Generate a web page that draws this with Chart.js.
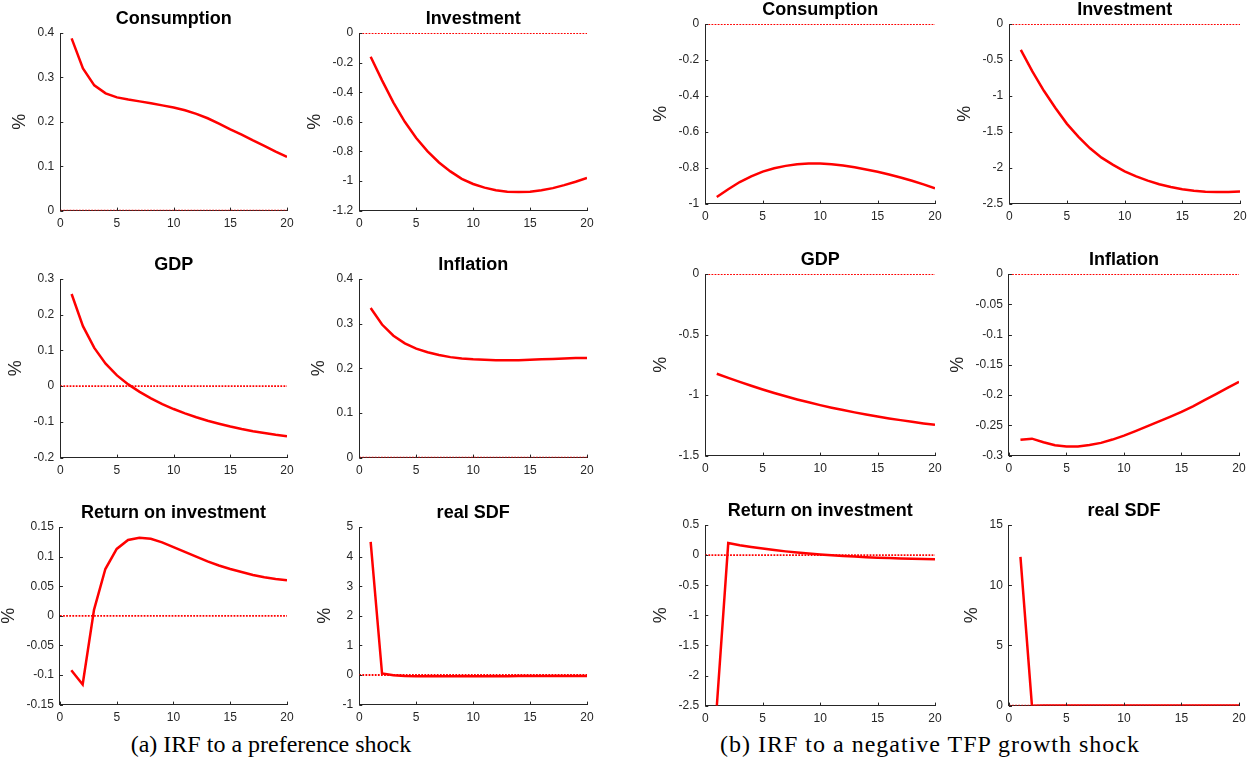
<!DOCTYPE html>
<html>
<head>
<meta charset="utf-8">
<script src="https://cdn.jsdelivr.net/npm/chart.js@4.4.1/dist/chart.umd.min.js"></script>
<style>
  body { margin: 0; background: #fff; }
  #wrap { position: relative; width: 1256px; height: 773px; overflow: hidden; background: #fff; }
  #wrap canvas { position: absolute; }
  .caption { position: absolute; font-family: "Liberation Serif", "DejaVu Serif", serif; font-size: 24px; color: #000; white-space: nowrap; transform: translateX(-50%); }
</style>
</head>
<body>
<div id="wrap">
  <div class="caption" style="left:271px; top:731px;">(a) IRF to a preference shock</div>
  <div class="caption" style="left:930px; top:731px; letter-spacing:1px;">(b) IRF to a negative TFP growth shock</div>
</div>
<script>
// horizon (quarters)
var periods = [1, 2, 3, 4, 5, 6, 7, 8, 9, 10, 11, 12, 13, 14, 15, 16, 17, 18, 19, 20];

// (a) preference shock
var prefConsumption = [0.388, 0.320, 0.282, 0.264, 0.255, 0.250, 0.246, 0.242, 0.237, 0.232, 0.226, 0.218, 0.208, 0.196, 0.183, 0.171, 0.158, 0.146, 0.133, 0.121];
var prefInvestment = [-0.16, -0.32, -0.47, -0.60, -0.71, -0.80, -0.875, -0.935, -0.985, -1.02, -1.045, -1.062, -1.072, -1.075, -1.072, -1.063, -1.048, -1.028, -1.005, -0.98];
var prefGDP = [0.258, 0.168, 0.107, 0.063, 0.030, 0.005, -0.016, -0.034, -0.050, -0.064, -0.076, -0.087, -0.097, -0.105, -0.113, -0.120, -0.126, -0.131, -0.136, -0.140];
var prefInflation = [0.335, 0.298, 0.273, 0.256, 0.244, 0.236, 0.230, 0.225, 0.222, 0.220, 0.219, 0.218, 0.218, 0.218, 0.219, 0.220, 0.221, 0.222, 0.223, 0.223];
var prefReturn = [-0.092, -0.116, 0.010, 0.079, 0.113, 0.128, 0.132, 0.130, 0.124, 0.116, 0.108, 0.100, 0.092, 0.085, 0.079, 0.074, 0.069, 0.065, 0.062, 0.060];
var prefSDF = [4.5, 0.05, -0.01, -0.03, -0.04, -0.04, -0.04, -0.04, -0.04, -0.04, -0.04, -0.04, -0.04, -0.03, -0.03, -0.03, -0.03, -0.03, -0.03, -0.03];

// (b) negative TFP growth shock
var tfpConsumption = [-0.963, -0.920, -0.880, -0.848, -0.822, -0.803, -0.790, -0.781, -0.777, -0.777, -0.781, -0.788, -0.798, -0.810, -0.823, -0.838, -0.855, -0.873, -0.893, -0.915];
var tfpInvestment = [-0.36, -0.66, -0.93, -1.17, -1.39, -1.57, -1.73, -1.86, -1.96, -2.05, -2.12, -2.18, -2.23, -2.27, -2.30, -2.32, -2.335, -2.34, -2.337, -2.33];
var tfpGDP = [-0.824, -0.858, -0.891, -0.923, -0.954, -0.983, -1.010, -1.036, -1.060, -1.083, -1.104, -1.124, -1.143, -1.161, -1.177, -1.193, -1.207, -1.221, -1.234, -1.246];
var tfpInflation = [-0.274, -0.272, -0.278, -0.283, -0.285, -0.2848, -0.2825, -0.279, -0.2735, -0.267, -0.2595, -0.2518, -0.244, -0.236, -0.2278, -0.2185, -0.2085, -0.1985, -0.1882, -0.178];
var tfpReturn = [-2.52, 0.20, 0.165, 0.135, 0.108, 0.083, 0.062, 0.043, 0.026, 0.010, -0.003, -0.015, -0.025, -0.034, -0.042, -0.049, -0.055, -0.060, -0.065, -0.070];
var tfpSDF = [12.35, -0.02, 0.01, 0.01, 0.01, 0.01, 0.01, 0.01, 0.01, 0.01, 0.01, 0.01, 0.01, 0.01, 0.01, 0.01, 0.01, 0.01, 0.01, 0.01];

// y axis ranges [min, max, step]
var prefRanges = [[0, 0.4, 0.1], [-1.2, 0, 0.2], [-0.2, 0.3, 0.1], [0, 0.4, 0.1], [-0.15, 0.15, 0.05], [-1, 5, 1]];
var tfpRanges = [[-1, 0, 0.2], [-2.5, 0, 0.5], [-1.5, 0, 0.5], [-0.3, 0, 0.05], [-2.5, 0.5, 0.5], [0, 15, 5]];
var titles = ['Consumption', 'Investment', 'GDP', 'Inflation', 'Return on investment', 'real SDF'];

var axisColor = '#262626';
var lineRed = '#ff0000';
var sans = '"Liberation Sans", Arial, sans-serif';

// plot area boxes [left, top, right, bottom]
var prefCols = [[60, 287], [359.3, 586.7]];
var prefRows = [[32.7, 210], [279.3, 458.3], [527.3, 705]];
var tfpCols = [[705.7, 935.7], [1009, 1239.3]];
var tfpRows = [[24, 204], [273.7, 455], [524.7, 705]];

// MATLAB-style ticks pointing into the plot
var inwardTicks = {
    id: 'inwardTicks',
    afterDatasetsDraw: function (chart) {
        var ctx = chart.ctx, area = chart.chartArea, sx = chart.scales.x, sy = chart.scales.y;
        ctx.save();
        ctx.strokeStyle = axisColor;
        ctx.lineWidth = 1;
        sx.ticks.forEach(function (t) {
            var px = Math.round(sx.getPixelForValue(t.value)) + 0.5;
            ctx.beginPath();
            ctx.moveTo(px, area.bottom);
            ctx.lineTo(px, area.bottom - 3);
            ctx.stroke();
        });
        sy.ticks.forEach(function (t) {
            var py = Math.round(sy.getPixelForValue(t.value)) + 0.5;
            ctx.beginPath();
            ctx.moveTo(area.left, py);
            ctx.lineTo(area.left + 3, py);
            ctx.stroke();
        });
        ctx.restore();
    }
};

// subplot title centred over the plot area (not the whole canvas)
var areaTitle = {
    id: 'areaTitle',
    afterDraw: function (chart, args, opts) {
        var ctx = chart.ctx, area = chart.chartArea;
        ctx.save();
        ctx.fillStyle = '#000';
        ctx.font = 'bold 18px ' + sans;
        ctx.textAlign = 'center';
        ctx.textBaseline = 'middle';
        ctx.fillText(opts.text, (area.left + area.right) / 2, area.top - 13.8);
        ctx.restore();
    }
};

function fmt(v) {
    return String(Number(v.toFixed(4)));
}

function makePanel(title, values, range, box) {
    var wrap = document.getElementById('wrap');
    var canvas = document.createElement('canvas');
    var w = box[2] - box[0], h = box[3] - box[1];
    canvas.width = Math.round(w + 120);
    canvas.height = Math.round(h + 70);
    wrap.appendChild(canvas);

    var chart = new Chart(canvas.getContext('2d'), {
        type: 'line',
        data: {
            datasets: [{
                data: periods.map(function (p, i) { return { x: p, y: values[i] }; }),
                borderColor: lineRed,
                borderWidth: 2.5,
                pointRadius: 0,
                tension: 0,
                fill: false
            }, {
                data: [{ x: 0, y: 0 }, { x: 20, y: 0 }],
                borderColor: lineRed,
                borderWidth: 1.8,
                borderDash: [1.8, 1.3],
                pointRadius: 0,
                fill: false
            }]
        },
        options: {
            responsive: false,
            maintainAspectRatio: false,
            animation: false,
            events: [],
            layout: { padding: { left: 0, right: 14, top: 30, bottom: 2 } },
            plugins: {
                legend: { display: false },
                tooltip: { enabled: false },
                title: { display: false },
                areaTitle: { text: title }
            },
            scales: {
                x: {
                    type: 'linear',
                    min: 0,
                    max: 20,
                    grid: { display: true, drawOnChartArea: false, drawTicks: false },
                    border: { display: true, color: axisColor, width: 1 },
                    ticks: {
                        stepSize: 5,
                        padding: 6,
                        color: axisColor,
                        font: { family: sans, size: 12 },
                        callback: fmt
                    }
                },
                y: {
                    min: range[0],
                    max: range[1],
                    grid: { display: true, drawOnChartArea: false, drawTicks: false },
                    border: { display: true, color: axisColor, width: 1 },
                    ticks: {
                        stepSize: range[2],
                        padding: 6,
                        color: axisColor,
                        font: { family: sans, size: 12 },
                        callback: fmt
                    },
                    title: {
                        display: true,
                        text: '%',
                        color: axisColor,
                        font: { family: sans, size: 18 },
                        padding: { top: 0, bottom: 1 }
                    }
                }
            }
        },
        plugins: [inwardTicks, areaTitle]
    });

    // fit the plot area to the target box, then move the canvas into place
    var a = chart.chartArea;
    chart.resize(Math.round(chart.width + w - (a.right - a.left)), Math.round(chart.height + h - (a.bottom - a.top)));
    a = chart.chartArea;
    canvas.style.left = (box[0] - a.left) + 'px';
    canvas.style.top = (box[1] - a.top) + 'px';
}

var prefSeries = [prefConsumption, prefInvestment, prefGDP, prefInflation, prefReturn, prefSDF];
var tfpSeries = [tfpConsumption, tfpInvestment, tfpGDP, tfpInflation, tfpReturn, tfpSDF];

for (var i = 0; i < 6; i++) {
    var c = i % 2, r = Math.floor(i / 2);
    makePanel(titles[i], prefSeries[i], prefRanges[i], [prefCols[c][0], prefRows[r][0], prefCols[c][1], prefRows[r][1]]);
    makePanel(titles[i], tfpSeries[i], tfpRanges[i], [tfpCols[c][0], tfpRows[r][0], tfpCols[c][1], tfpRows[r][1]]);
}
</script>
</body>
</html>
